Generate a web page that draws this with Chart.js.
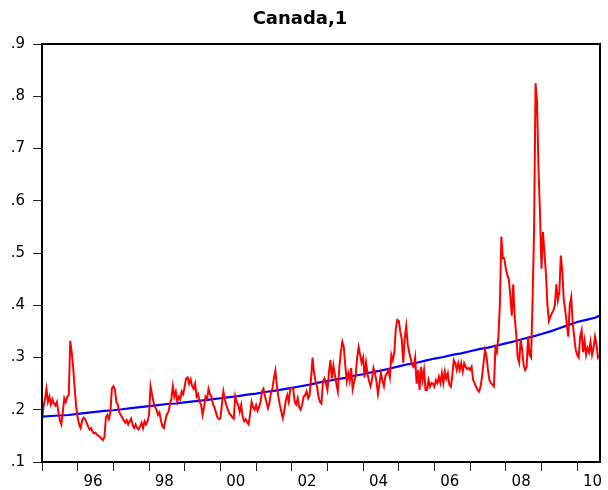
<!DOCTYPE html>
<html>
<head>
<meta charset="utf-8">
<script src="https://cdn.jsdelivr.net/npm/chart.js@4.4.1/dist/chart.umd.min.js"></script>
<style>
  html, body { margin: 0; padding: 0; background: #fff; }
  canvas { display: block; }
</style>
</head>
<body>
<canvas id="myChart" width="608" height="490"></canvas>
<script>
// x axis: years, tick marks at each year start, labels under every other year
const firstYear = 1995;
const lastX = 2010.64;
const yearTicks = [1995, 1996, 1997, 1998, 1999, 2000, 2001, 2002, 2003, 2004, 2005, 2006, 2007, 2008, 2009, 2010];
const labelYears = [1996, 1998, 2000, 2002, 2004, 2006, 2008, 2010];
const labelText = ["96", "98", "00", "02", "04", "06", "08", "10"];
const labelShift = 0.43; // labels sit roughly mid-year
const yTicks = [0.1, 0.2, 0.3, 0.4, 0.5, 0.6, 0.7, 0.8, 0.9];

// red series, two readings per month (24 per year), from Jan 1995
const spread = [
  .178, .205, .22, .24, .215, .225, .21, .22, .212, .208, .215, .196, .18, .172, .195, .222, .215, .225, .228, .332, .31, .28, .24, .205,
  .185, .172, .165, .18, .185, .182, .175, .168, .162, .165, .158, .155, .156, .152, .15, .148, .145, .142, .148, .185, .19, .182, .195, .24,
  .245, .24, .215, .21, .195, .19, .185, .18, .175, .18, .172, .178, .183, .17, .165, .172, .165, .162, .168, .175, .165, .178, .172, .178,
  .19, .245, .23, .215, .205, .2, .19, .195, .18, .168, .165, .18, .192, .195, .21, .22, .245, .225, .235, .215, .225, .22, .235, .23,
  .245, .26, .262, .25, .258, .245, .24, .25, .225, .23, .215, .21, .19, .205, .225, .22, .24, .23, .225, .21, .205, .195, .185, .182,
  .183, .21, .235, .22, .209, .2, .193, .19, .185, .183, .226, .215, .209, .196, .209, .186, .178, .182, .176, .172, .192, .215, .205, .2,
  .209, .198, .205, .215, .235, .24, .226, .215, .203, .214, .232, .24, .26, .275, .245, .225, .209, .196, .184, .198, .218, .228, .215, .24,
  .242, .24, .215, .21, .222, .205, .2, .21, .225, .228, .235, .222, .228, .26, .30, .27, .255, .245, .225, .215, .212, .254, .26, .25,
  .238, .27, .295, .26, .285, .267, .25, .235, .28, .31, .33, .32, .285, .255, .27, .255, .28, .24, .254, .265, .30, .32, .305, .29,
  .30, .262, .29, .268, .255, .245, .258, .28, .27, .254, .23, .25, .27, .256, .245, .265, .27, .275, .262, .305, .295, .31, .355, .372,
  .37, .35, .335, .29, .337, .36, .325, .31, .298, .285, .282, .30, .25, .276, .238, .282, .257, .276, .238, .238, .257, .244, .251, .25,
  .244, .257, .251, .263, .251, .27, .251, .273, .26, .27, .248, .244, .265, .295, .289, .276, .289, .276, .289, .273, .289, .282, .278, .28,
  .276, .282, .257, .251, .244, .238, .235, .244, .263, .289, .314, .302, .276, .257, .251, .248, .245, .318, .31, .34, .40, .531, .49, .49,
  .47, .458, .45, .42, .38, .44, .375, .345, .30, .29, .335, .314, .285, .276, .282, .34, .305, .30, .41, .54, .825, .79, .66, .576,
  .47, .54, .50, .46, .40, .37, .378, .385, .39, .40, .44, .41, .425, .495, .465, .41, .39, .365, .34, .40, .415, .365, .34, .315,
  .305, .30, .34, .352, .31, .332, .305, .318, .31, .33, .305, .318, .34, .325, .30, .305
];

// blue trend, quarterly from 1995Q1
const trend = [
  .187, .188, .189, .190,
  .192, .194, .196, .198,
  .199, .201, .203, .205,
  .207, .209, .211, .212,
  .214, .216, .218, .220,
  .222, .224, .226, .229,
  .231, .234, .236, .239,
  .242, .245, .248, .252,
  .255, .258, .261, .265,
  .268, .272, .275, .279,
  .283, .287, .290, .294,
  .298, .301, .305, .308,
  .312, .316, .319, .323,
  .327, .331, .336, .340,
  .345, .350, .356, .362,
  .368, .372, .376, .384
];

const spreadPoints = spread.map((v, i) => ({ x: firstYear + i / 24, y: v }));
const trendPoints = trend.map((v, i) => ({ x: firstYear + i / 4, y: v }));

const frame = {
  id: "frame",
  afterDatasetsDraw(chart) {
    const { ctx, chartArea: a } = chart;
    ctx.save();
    ctx.strokeStyle = "#000";
    ctx.lineWidth = 2;
    ctx.strokeRect(a.left, a.top, a.right - a.left, a.bottom - a.top);
    ctx.restore();
  }
};

const tickFont = { family: "DejaVu Sans", size: 15 };

new Chart(document.getElementById("myChart"), {
  type: "line",
  data: {
    datasets: [
      {
        data: spreadPoints,
        borderColor: "#FF0000",
        borderWidth: 2,
        pointRadius: 0,
        tension: 0
      },
      {
        data: trendPoints,
        borderColor: "#0000FF",
        borderWidth: 2.2,
        pointRadius: 0,
        tension: 0
      }
    ]
  },
  options: {
    responsive: false,
    animation: false,
    devicePixelRatio: 1,
    layout: { padding: { left: 0, right: 8, top: 0, bottom: 0 } },
    plugins: {
      legend: { display: false },
      tooltip: { enabled: false },
      title: {
        display: true,
        text: "Canada,1",
        color: "#000",
        font: { family: "DejaVu Sans", size: 18, weight: "bold" },
        padding: { top: 9, bottom: 13.4 }
      }
    },
    scales: {
      x: {
        type: "linear",
        min: firstYear,
        max: lastX,
        afterBuildTicks(scale) {
          const t = yearTicks.map(v => ({ value: v }))
            .concat(labelYears.map(y => ({ value: y + labelShift })));
          t.sort((a, b) => a.value - b.value);
          scale.ticks = t;
        },
        afterFit(scale) { scale.height = 28; },
        border: { display: false },
        grid: {
          drawOnChartArea: false,
          tickLength: 9,
          tickColor: ctx => Number.isInteger(ctx.tick.value) ? "#222" : "rgba(0,0,0,0)"
        },
        ticks: {
          autoSkip: false,
          maxRotation: 0,
          minRotation: 0,
          padding: 2,
          color: "#000",
          font: tickFont,
          callback: value => {
            const i = labelYears.findIndex(y => Math.abs(y + labelShift - value) < 1e-6);
            return i >= 0 ? labelText[i] : "";
          }
        }
      },
      y: {
        min: 0.1,
        max: 0.9,
        afterBuildTicks(scale) {
          scale.ticks = yTicks.map(v => ({ value: v }));
        },
        afterFit(scale) { scale.width = 42; },
        border: { display: false },
        grid: {
          drawOnChartArea: false,
          tickLength: 9,
          tickColor: "#222"
        },
        ticks: {
          padding: 8,
          color: "#000",
          font: tickFont,
          callback: value => value.toFixed(1).slice(1)
        }
      }
    }
  },
  plugins: [frame]
});
</script>
</body>
</html>
